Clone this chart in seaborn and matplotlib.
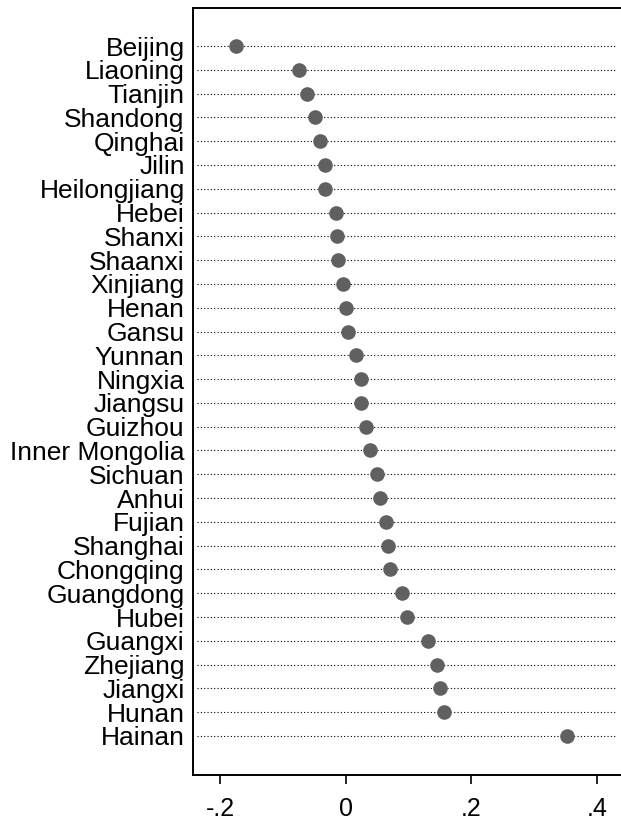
import matplotlib
matplotlib.use("Agg")
import matplotlib.pyplot as plt
import seaborn as sns
import pandas as pd

provinces = [
    "Beijing", "Liaoning", "Tianjin", "Shandong", "Qinghai", "Jilin",
    "Heilongjiang", "Hebei", "Shanxi", "Shaanxi", "Xinjiang", "Henan",
    "Gansu", "Yunnan", "Ningxia", "Jiangsu", "Guizhou", "Inner Mongolia",
    "Sichuan", "Anhui", "Fujian", "Shanghai", "Chongqing", "Guangdong",
    "Hubei", "Guangxi", "Zhejiang", "Jiangxi", "Hunan", "Hainan",
]
values = [
    -0.175, -0.074, -0.061, -0.049, -0.041, -0.033,
    -0.033, -0.016, -0.014, -0.012, -0.004, 0.000,
    0.004, 0.016, 0.024, 0.024, 0.032, 0.038,
    0.050, 0.055, 0.064, 0.067, 0.070, 0.089,
    0.098, 0.131, 0.145, 0.150, 0.156, 0.352,
]
xticks = [-0.2, 0.0, 0.2, 0.4]
xticklabels = ["-.2", "0", ".2", ".4"]

df = pd.DataFrame({"province": provinces, "value": values})

sns.set_theme(style="white")
plt.rcParams["font.family"] = ["Liberation Sans", "DejaVu Sans"]

fig = plt.figure(figsize=(6.21, 8.22), dpi=100)
ax = fig.add_axes([0.3108, 0.0572, 0.6892, 0.9331])

xmin, xmax = -0.243, 0.438
ax.set_xlim(xmin, xmax)

# dotted guide lines for every province
ax.hlines(range(len(provinces)), xmin + 0.006, xmax - 0.006,
          colors="black", linestyles=(0, (1, 2)), linewidth=0.8, zorder=1)

sns.stripplot(data=df, x="value", y="province", order=provinces,
              jitter=False, orient="h", color="#606060", size=10.5,
              linewidth=0, ax=ax, zorder=3)

ax.set_ylim(30.64, -1.6)
ax.set_xlim(xmin, xmax)
ax.set_xticks(xticks)
ax.set_xticklabels(xticklabels)
ax.set_xlabel("")
ax.set_ylabel("")

for side in ("left", "bottom", "top"):
    ax.spines[side].set_visible(True)
    ax.spines[side].set_color("black")
    ax.spines[side].set_linewidth(1.4)
ax.spines["right"].set_visible(False)

ax.tick_params(axis="x", which="both", bottom=True, length=6.5, width=1.2,
               color="black", labelsize=18, pad=9, labelcolor="black")
ax.tick_params(axis="y", which="both", left=False, length=0,
               labelsize=19, pad=6, labelcolor="black")
ax.grid(False)

fig.savefig("out.png", dpi=100, facecolor="white")
